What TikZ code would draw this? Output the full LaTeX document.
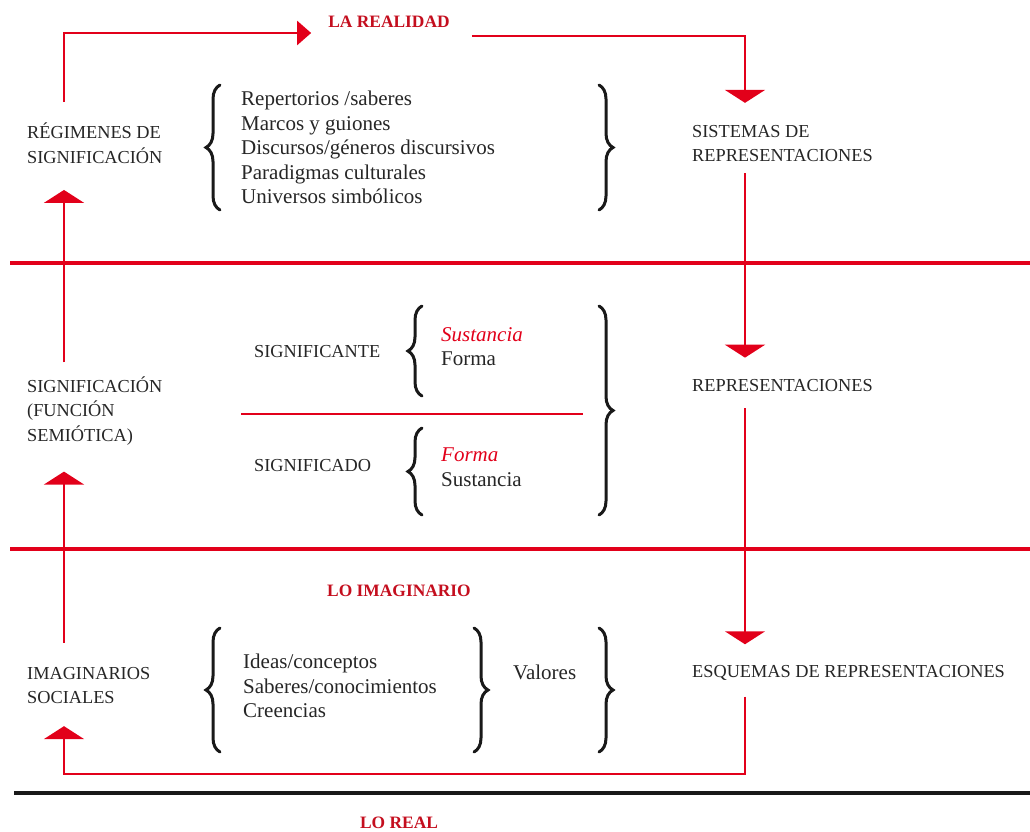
\documentclass[tikz,border=0pt]{standalone}
\usepackage{fontspec}
\setmainfont{Liberation Serif}
\usetikzlibrary{arrows.meta,decorations.pathreplacing}
\definecolor{linered}{RGB}{226,0,26}
\definecolor{titlered}{RGB}{196,14,30}
\definecolor{ink}{RGB}{38,38,38}
\begin{document}
\begin{tikzpicture}[x=1pt,y=-1pt,
  caps/.style={anchor=west, inner sep=0pt, text=ink, align=left,
    font=\fontsize{18.3}{24.6}\selectfont},
  lower/.style={anchor=west, inner sep=0pt, text=ink, align=left,
    font=\fontsize{21}{24.6}\selectfont},
  title/.style={inner sep=0pt, text=titlered,
    font=\fontsize{17.4}{20}\selectfont\bfseries},
  flow/.style={draw=linered, line width=2.4pt},
  tipdown/.style={-{Triangle[width=40pt,length=13pt]}},
  tipright/.style={-{Triangle[width=24pt,length=14pt]}},
  band/.style={draw=linered, line width=4pt},
  ground/.style={draw=black!90, line width=4.5pt},
  cbrace/.style={draw=black!90, line width=3pt, line cap=round,
    decorate, decoration={brace, amplitude=14pt, aspect=0.5}},
]
\useasboundingbox (0,0) rectangle (1030,832);

% column guides for the flow arrows
\coordinate (colL) at (64,0);
\coordinate (colR) at (745,0);

% level titles
\node[title] (realidad) at (389,22) {LA REALIDAD};
\node[title] (imaginario) at (399,591) {LO IMAGINARIO};
\node[title] (real) at (399,823) {LO REAL};

% separating bands
\draw[band] (10,263) -- (1030,263);
\draw[band] (10,549) -- (1030,549);
\draw[ground] (14,793) -- (1030,793);

% top level
\node[caps] (reg) at (27,143.5) {RÉGIMENES DE\\SIGNIFICACIÓN};
\node[lower] (rep) at (241,147.6) {Repertorios /saberes\\Marcos y guiones\\Discursos/géneros discursivos\\Paradigmas culturales\\Universos simbólicos};
\node[caps] (sist) at (692,143.5) {SISTEMAS DE\\REPRESENTACIONES};
\draw[cbrace] (220,210) -- (220,85);
\draw[cbrace] (599,85) -- (599,210);

% middle level
\node[caps] (sig) at (27,411) {SIGNIFICACIÓN\\(FUNCIÓN\\SEMIÓTICA)};
\node[caps] (ste) at (254,352) {SIGNIFICANTE};
\node[lower] (ste2) at (441,346.5) {\textcolor{linered}{\itshape Sustancia}\\Forma};
\node[caps] (sdo) at (254,466) {SIGNIFICADO};
\node[lower] (sdo2) at (441,467.5) {\textcolor{linered}{\itshape Forma}\\Sustancia};
\node[caps] (repr) at (692,386) {REPRESENTACIONES};
\draw[flow] (rep.west |- 0,414) -- (583,414);
\draw[cbrace] (422,396) -- (422,306);
\draw[cbrace] (422,515) -- (422,428);
\draw[cbrace] (599,306) -- (599,515);

% bottom level
\node[caps] (imag) at (27,685.5) {IMAGINARIOS\\SOCIALES};
\node[lower] (ideas) at (243,686) {Ideas/conceptos\\Saberes/conocimientos\\Creencias};
\node[lower] (val) at (513,672) {Valores};
\node[caps] (esq) at (692,673) {ESQUEMAS DE REPRESENTACIONES};
\draw[cbrace] (220,752) -- (220,628);
\draw[cbrace] (474,628) -- (474,752);
\draw[cbrace] (599,628) -- (599,752);

% flow arrows
\draw[flow, tipright] ([yshift=21pt]reg.north -| colL)
  |- ([xshift=-17pt,yshift=-11pt]realidad.west);
\draw[flow, tipdown] ([xshift=22pt,yshift=-14pt]realidad.east)
  -| ([yshift=22pt]sist.north -| colR);
\draw[flow, tipdown] ([yshift=-11pt]sist.south -| colR)
  -- ([yshift=22pt]repr.north -| colR);
\draw[flow, tipdown] ([yshift=-16pt]repr.south -| colR)
  -- ([yshift=21pt]esq.north -| colR);
\draw[flow, tipdown] ([yshift=-16pt]esq.south -| colR)
  |- ([yshift=-70pt]imag.south -| colR) -| ([yshift=-22pt]imag.south -| colL);
\draw[flow, tipdown] ([yshift=24pt]imag.north -| colL)
  -- ([yshift=-26pt]sig.south -| colL);
\draw[flow, tipdown] ([yshift=14pt]sig.north -| colL)
  -- ([yshift=-26pt]reg.south -| colL);
\end{tikzpicture}
\end{document}
